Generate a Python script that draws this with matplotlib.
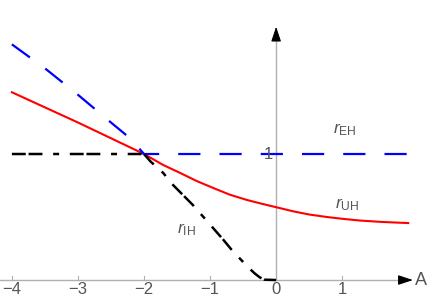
import matplotlib
matplotlib.use("Agg")
import matplotlib.pyplot as plt

plt.rcParams['font.family'] = ['Liberation Sans', 'DejaVu Sans']
plt.rcParams['mathtext.fontset'] = 'custom'
plt.rcParams['mathtext.rm'] = 'Liberation Sans'
plt.rcParams['mathtext.it'] = 'Liberation Sans:italic'
plt.rcParams['lines.scale_dashes'] = False

# r_EH (blue dashed)
a_eh = [-4.0, -3.5, -3.0, -2.5, -2.2, -2.0, 0.0, 2.0]
r_eh = [1.87, 1.68, 1.47, 1.25, 1.12, 1.0, 1.0, 1.0]

# r_UH (red)
a_uh = [-4.0, -3.0, -2.6, -2.0, -1.71, -1.45, -1.2, -0.95, -0.7, -0.44, -0.2,
        0.0, 0.26, 0.5, 0.77, 1.0, 1.27, 1.6, 2.0]
r_uh = [1.49, 1.25, 1.15, 1.0, 0.913, 0.849, 0.785, 0.73, 0.677, 0.635, 0.603,
        0.578, 0.545, 0.52, 0.50, 0.486, 0.472, 0.461, 0.452]

# r_IH (black dash-dot)
a_ih = [-4.0, -2.0, -1.9, -1.71, -1.56, -1.26, -1.1, -0.95, -0.8, -0.65, -0.53,
        -0.42, -0.33, -0.25, -0.18, 0.0]
r_ih = [1.0, 1.0, 0.94, 0.85, 0.754, 0.595, 0.5, 0.41, 0.32, 0.225, 0.16,
        0.1, 0.055, 0.022, 0.003, 0.0]

xticks = [-4, -3, -2, -1, 0, 1]
gray = '#555555'
axis_col = '#b0b0b0'

fig = plt.figure(figsize=(4.36, 3.06), dpi=100)
ax = fig.add_axes([0, 0, 1, 1])
ax.set_xlim(-4.18, 2.42)
ax.set_ylim(-0.206, 2.222)
ax.axis('off')

# axis lines (gray) with black arrow heads
ax.plot([-4.18, 2.0], [0, 0], color=axis_col, lw=1)
ax.plot([0, 0], [0, 1.95], color=axis_col, lw=1)
head = dict(arrowstyle='-|>,head_length=0.9,head_width=0.3', color='black',
            lw=0.8, shrinkA=0, shrinkB=0)
ax.annotate('', xy=(2.07, 0), xytext=(1.95, 0), arrowprops=head)
ax.annotate('', xy=(0, 2.01), xytext=(0, 1.9), arrowprops=head)

for t in xticks:
    if t != 0:
        ax.plot([t, t], [0, 0.03], color=axis_col, lw=0.8)
    lab = '\u2212' + str(abs(t)) if t < 0 else str(t)
    ax.text(t, -0.075, lab, ha='center', va='center', fontsize=12, color=gray)
ax.text(2.2, 0.0, 'A', ha='center', va='center', fontsize=13, color=gray)
ax.text(-0.12, 1.0, '1', ha='center', va='center', fontsize=12, color=gray)

ax.plot(a_uh, r_uh, color='red', lw=1.5)
ax.plot(a_eh, r_eh, color='blue', lw=1.6, linestyle=(0, (16, 13.7)))
ax.plot(a_ih, r_ih, color='black', lw=1.8, linestyle=(0, (10, 2, 10, 7.7, 4.3, 7.7)))

ax.text(0.86, 1.19, r'$r_{\mathrm{EH}}$', fontsize=12.5, color=gray, va='center')
ax.text(0.89, 0.60, r'$r_{\mathrm{UH}}$', fontsize=12.5, color=gray, va='center')
ax.text(-1.5, 0.40, r'$r_{\mathrm{IH}}$', fontsize=12.5, color=gray, va='center')

fig.savefig('out.png', dpi=100)
